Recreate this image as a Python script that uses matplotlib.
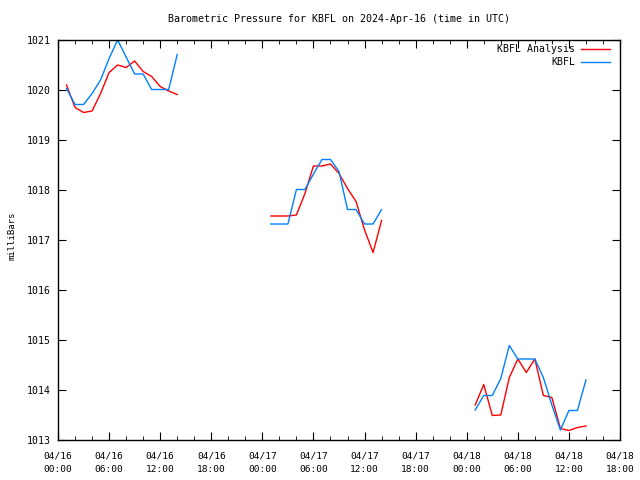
import numpy as np
import matplotlib
matplotlib.use("Agg")
import matplotlib.pyplot as plt

# hours since 2024-04-16 00:00 UTC, three separate stretches of data
hrs_a = list(range(1, 15))
hrs_b = list(range(25, 39))
hrs_c = list(range(49, 63))

analysis_a = [1020.10, 1019.65, 1019.55, 1019.58, 1019.93, 1020.35, 1020.50,
              1020.45, 1020.58, 1020.37, 1020.27, 1020.07, 1019.98, 1019.91]
analysis_b = [1017.48, 1017.48, 1017.48, 1017.50, 1017.93, 1018.48, 1018.48,
              1018.52, 1018.33, 1018.03, 1017.77, 1017.20, 1016.75, 1017.39]
analysis_c = [1013.70, 1014.11, 1013.49, 1013.50, 1014.25, 1014.62, 1014.35,
              1014.62, 1013.89, 1013.85, 1013.23, 1013.19, 1013.25, 1013.28]

obs_a = [1020.03, 1019.71, 1019.71, 1019.93, 1020.20, 1020.63, 1021.00,
         1020.66, 1020.32, 1020.32, 1020.01, 1020.01, 1020.01, 1020.71]
obs_b = [1017.32, 1017.32, 1017.32, 1018.01, 1018.01, 1018.32, 1018.61,
         1018.61, 1018.37, 1017.61, 1017.61, 1017.32, 1017.32, 1017.61]
obs_c = [1013.60, 1013.89, 1013.89, 1014.23, 1014.89, 1014.62, 1014.62,
         1014.62, 1014.25, 1013.70, 1013.20, 1013.59, 1013.59, 1014.20]

tick_hours = list(range(0, 67, 6))
tick_labels = ["04/16\n00:00", "04/16\n06:00", "04/16\n12:00", "04/16\n18:00",
               "04/17\n00:00", "04/17\n06:00", "04/17\n12:00", "04/17\n18:00",
               "04/18\n00:00", "04/18\n06:00", "04/18\n12:00", "04/18\n18:00"]

plt.rcParams['font.family'] = 'DejaVu Sans Mono'
plt.rcParams['font.size'] = 7.1

red = '#ff0000'
blue = '#0080ff'

fig = plt.figure(figsize=(6.4, 4.8), dpi=100)
ax = fig.add_axes([58 / 640, 40 / 480, 562 / 640, 400 / 480])

for h, a, o in [(hrs_a, analysis_a, obs_a), (hrs_b, analysis_b, obs_b), (hrs_c, analysis_c, obs_c)]:
    ax.plot(h, a, color=red, lw=1)
    ax.plot(h, o, color=blue, lw=1)

ax.set_xlim(0, 66)
ax.set_ylim(1013, 1021)
ax.set_xticks(tick_hours)
ax.set_xticklabels(tick_labels, linespacing=1.7, fontsize=6.8)
ax.set_xticks(range(0, 67, 2), minor=True)
ax.set_yticks(range(1013, 1022))
ax.tick_params(which='both', direction='in', top=True, right=True)
ax.tick_params(which='major', length=6)
ax.tick_params(which='minor', length=3)
ax.tick_params(axis='y', pad=5)
ax.tick_params(axis='x', pad=8)
for s in ax.spines.values():
    s.set_linewidth(1)

ax.set_ylabel("milliBars", fontsize=6.5)
ax.yaxis.set_label_coords((17 - 58) / 562, 0.51)
fig.text(339.5 / 640, 1 - 19 / 480, "Barometric Pressure for KBFL on 2024-Apr-16 (time in UTC)",
         ha='center', va='center', fontsize=7.2)

# legend, gnuplot style: text right-aligned, sample on the right
leg_items = [("KBFL Analysis", red), ("KBFL", blue)]
for i, (name, c) in enumerate(leg_items):
    yy = 1 - (49.5 + 13 * i - 40) / 400
    ax.text((575 - 58) / 562, yy, name, transform=ax.transAxes, ha='right', va='center')
    ax.plot([(581 - 58) / 562, (610 - 58) / 562], [yy, yy], color=c, lw=1,
            transform=ax.transAxes)

fig.savefig("out.png", dpi=100)
